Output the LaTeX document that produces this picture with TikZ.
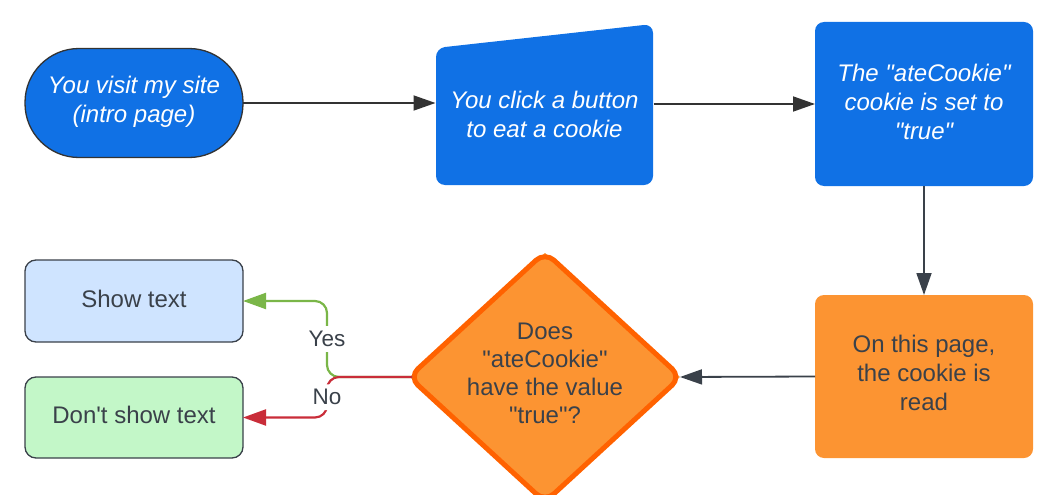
\documentclass[tikz,border=0pt]{standalone}
\usepackage{fontspec}
\setmainfont{Liberation Sans}
\usetikzlibrary{arrows.meta}
\definecolor{lblue}{HTML}{1071E5}
\definecolor{orfill}{HTML}{FC9432}
\definecolor{orline}{HTML}{FF6200}
\definecolor{txt}{HTML}{3A414A}
\definecolor{sky}{HTML}{CFE4FF}
\definecolor{mint}{HTML}{C3F7C8}
\definecolor{yesgreen}{HTML}{7AB648}
\definecolor{nored}{HTML}{C92D39}
\definecolor{dark}{HTML}{333333}
\newcommand{\dq}{\textquotedbl}
\begin{document}
\begin{tikzpicture}[x=1pt,y=-1pt,
  every node/.style={font=\fontsize{24}{29}\selectfont, inner sep=0pt, outer sep=0pt},
  box/.style={minimum width=218pt, rounded corners=9pt},
  bluetext/.style={align=center, text=white, font=\fontsize{24}{29}\selectfont\itshape},
  darktext/.style={align=center, text=txt},
  flow/.style={draw=dark, line width=1.8pt, -{Triangle[length=22pt,width=15pt]}},
  branch/.style={line width=2.2pt, rounded corners=12pt, -{Triangle[length=23pt,width=16pt]}},
  branchlbl/.style={fill=white, text=txt, font=\fontsize{22.5}{26}\selectfont, inner xsep=2pt, inner ysep=5pt},
  ]
\useasboundingbox (0,0) rectangle (1063,495);

% terminal
\node[box, minimum height=109pt, rounded corners=54pt, fill=lblue, draw=dark, line width=1.3pt]
  (visit) at (134,103) {};
\node[bluetext] (visittxt) at ([yshift=1pt]visit.center) {You visit my site\\(intro page)};

% manual input shape
\fill[lblue, rounded corners=9pt] (436,185) -- (436,48) -- (653,24) -- (653,185) -- cycle;
\node[box, minimum height=137pt] (click) at (544.5,116) {};
\node[bluetext] (clicktxt) at ([yshift=2pt]click.center) {You click a button\\to eat a cookie};

% cookie set
\node[box, minimum height=164pt, fill=lblue] (set) at (924,104) {};
\node[bluetext] (settxt) at ([yshift=2.5pt]set.center)
  {The \dq ateCookie\dq\\cookie is set to\\\dq true\dq};

% read
\node[box, minimum height=163pt, fill=orfill] (read) at (924,376.5) {};
\node[darktext] (readtxt) at ([yshift=3.5pt]read.center)
  {On this page,\\the cookie is\\read};

% decision
\fill[orfill] (545,253) -- (680,377) -- (545,501) -- (410,377) -- cycle;
\draw[orline, line width=5pt, rounded corners=12pt, line join=round]
  (545,252) -- (681,377) -- (545,502) -- (409,377) -- cycle;
\node[darktext, font=\fontsize{24}{28}\selectfont] (dec) at (545,373)
  {Does\\\dq ateCookie\dq\\have the value\\\dq true\dq?};
\coordinate (dW) at (412,377);
\coordinate (dE) at (680,377);

% outcomes
\node[box, minimum height=82pt, fill=sky, draw=txt, line width=1.3pt, rounded corners=11pt]
  (show) at (134,301) {};
\node[darktext] (showtxt) at ([yshift=2.5pt]show.center) {Show text};
\node[box, minimum height=81pt, fill=mint, draw=txt, line width=1.3pt, rounded corners=11pt]
  (dont) at (134,417.5) {};
\node[darktext] (donttxt) at ([yshift=2.5pt]dont.center) {Don\textquotesingle t show text};

% connectors
\draw[flow] (visit.east) -- (visit.east -| click.west);
\draw[flow] (click.east |- set.west) -- (set.west);
\draw[flow, draw=txt] (set.south) -- (read.north);
\draw[flow, draw=txt] (read.west) -- (dE);

\draw[branch, draw=yesgreen] (dW) -- (327,377) |- node[pos=0.25, branchlbl] (yes) {Yes} (show.east);
\draw[branch, draw=nored] (dW) -- (327,377) |- node[pos=0.25, branchlbl] (no) {No} (dont.east);
\end{tikzpicture}
\end{document}
